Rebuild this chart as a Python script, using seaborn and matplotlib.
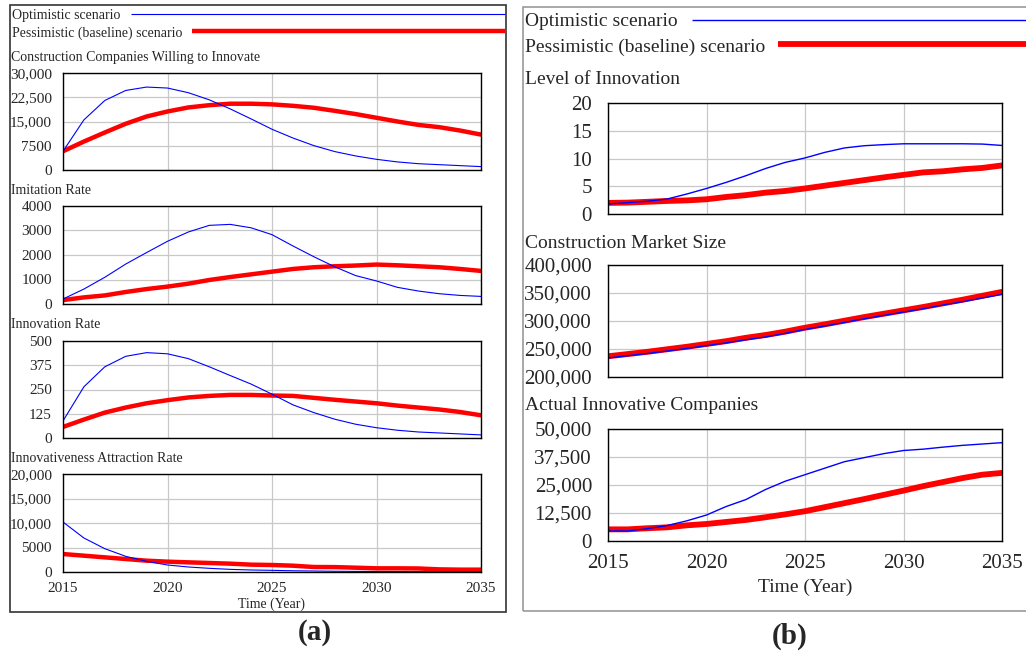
import numpy as np
import pandas as pd
import seaborn as sns
import matplotlib.pyplot as plt
from matplotlib.lines import Line2D
from matplotlib.patches import Rectangle

sns.set_style("white")
plt.rcParams['font.family'] = ['Liberation Serif', 'DejaVu Serif']

years = list(range(2015, 2036))

# (a) panel series
willing_opt = [5800, 15500, 21500, 24600, 25650, 25350, 23900, 21700, 18900, 15800, 12600,
               9900, 7550, 5700, 4350, 3300, 2500, 1950, 1650, 1350, 1050]
willing_pes = [5800, 8800, 11600, 14300, 16550, 18100, 19350, 20050, 20500, 20500, 20300,
               19850, 19250, 18300, 17300, 16150, 15000, 13950, 13250, 12200, 10950]
imit_opt = [204, 610, 1090, 1630, 2100, 2560, 2940, 3210, 3250, 3110, 2830,
            2370, 1930, 1520, 1160, 940, 680, 530, 420, 350, 310]
imit_pes = [160, 270, 350, 490, 610, 710, 830, 980, 1100, 1210, 1320,
            1430, 1500, 1540, 1570, 1610, 1580, 1540, 1500, 1430, 1350]
innov_opt = [88, 264, 367, 421, 440, 434, 409, 367, 322, 278, 226,
             171, 131, 97, 71, 53, 40, 31, 26, 21, 16]
innov_pes = [57, 95, 131, 157, 179, 195, 209, 217, 222, 222, 219,
             217, 207, 197, 188, 179, 167, 157, 147, 134, 117]
attr_opt = [10200, 6940, 4760, 3200, 2180, 1430, 1020, 750, 540, 410, 340,
            250, 200, 150, 120, 100, 80, 70, 60, 50, 40]
attr_pes = [3670, 3330, 2990, 2650, 2310, 2110, 1970, 1840, 1700, 1500, 1430,
            1290, 1020, 1000, 880, 750, 750, 720, 540, 480, 480]

# (b) panel series
level_opt = [1.8, 2.05, 2.3, 2.7, 3.6, 4.6, 5.7, 6.9, 8.2, 9.3, 10.1,
             11.1, 11.9, 12.3, 12.5, 12.65, 12.65, 12.65, 12.65, 12.6, 12.35]
level_pes = [2.0, 2.05, 2.2, 2.35, 2.45, 2.65, 3.07, 3.4, 3.85, 4.15, 4.6,
             5.1, 5.6, 6.1, 6.6, 7.05, 7.5, 7.7, 8.05, 8.3, 8.75]
market_opt = [234000, 238000, 242000, 246500, 251000, 256000, 261000, 266500, 271500, 278000, 285000,
              291000, 297500, 304000, 310000, 316000, 322000, 328500, 334500, 341000, 347500]
market_pes = [237000, 241000, 245000, 249500, 254000, 259000, 264000, 270000, 275000, 281000, 288000,
              294000, 300500, 307000, 313000, 319000, 325000, 331500, 338000, 345000, 352000]
actual_opt = [4500, 4500, 5500, 6900, 9000, 11600, 15400, 18500, 23000, 26700, 29600,
              32500, 35400, 37200, 39000, 40400, 41000, 41900, 42700, 43300, 43900]
actual_pes = [5200, 5200, 5700, 6100, 7000, 7600, 8500, 9400, 10600, 11900, 13300,
              15100, 16900, 18700, 20600, 22500, 24500, 26300, 28100, 29600, 30400]

titles_a = ["Construction Companies Willing to Innovate", "Imitation Rate",
            "Innovation Rate", "Innovativeness Attraction Rate"]
ticks_a = [["0", "7500", "15,000", "22,500", "30,000"],
           ["0", "1000", "2000", "3000", "4000"],
           ["0", "125", "250", "375", "500"],
           ["0", "5000", "10,000", "15,000", "20,000"]]
ymax_a = [30000, 4000, 500, 20000]
titles_b = ["Level of Innovation", "Construction Market Size", "Actual Innovative Companies"]
ticks_b = [["0", "5", "10", "15", "20"],
           ["200,000", "250,000", "300,000", "350,000", "400,000"],
           ["0", "12,500", "25,000", "37,500", "50,000"]]
ylim_b = [(0, 20), (200000, 400000), (0, 50000)]
xticks = [2015, 2020, 2025, 2030, 2035]

BLUE = "#0000ff"
RED = "#ff0000"
W, H = 1026, 652

fig = plt.figure(figsize=(W / 100, H / 100), dpi=100)


def rect(x0, x1, y0, y1):
    return [x0 / W, 1 - y1 / H, (x1 - x0) / W, (y1 - y0) / H]


def txt(x, y, s, size, **kw):
    fig.text(x / W, 1 - y / H, s, fontsize=size, va='center', **kw)


def hline(x0, x1, y, color, lw):
    fig.add_artist(Line2D([x0 / W, x1 / W], [1 - y / H, 1 - y / H], color=color, lw=lw,
                          solid_capstyle='butt'))


def draw(ax, opt, pes, lims, labels, tsize, lw_red, lw_blue, show_x):
    df = pd.DataFrame({'year': years, 'opt': opt, 'pes': pes})
    sns.lineplot(data=df, x='year', y='pes', ax=ax, color=RED, lw=lw_red)
    sns.lineplot(data=df, x='year', y='opt', ax=ax, color=BLUE, lw=lw_blue)
    ax.set_xlim(2015, 2035)
    ax.set_ylim(*lims)
    ax.set_xticks(xticks)
    ax.set_yticks(np.linspace(lims[0], lims[1], 5))
    ax.set_yticklabels(labels, fontsize=tsize)
    if show_x:
        ax.set_xticklabels([str(t) for t in xticks], fontsize=tsize)
    else:
        ax.set_xticklabels([])
    ax.set_xlabel('')
    ax.set_ylabel('')
    ax.grid(True, color='#c8c8c8', lw=0.9)
    ax.tick_params(length=0)
    for sp in ax.spines.values():
        sp.set_color('black')
        sp.set_linewidth(1.0)


# panel borders
fig.add_artist(Rectangle((10 / W, 1 - 612 / H), 496 / W, 607 / H, transform=fig.transFigure,
                         fill=False, ec='#333333', lw=1.2))
fig.add_artist(Rectangle((523 / W, 1 - 611 / H), 520 / W, 604 / H, transform=fig.transFigure,
                         fill=False, ec='#999999', lw=1.2))

# (a) legend
txt(12, 16, "Optimistic scenario", 10)
hline(131, 505, 13.5, BLUE, 0.8)
txt(12, 33, "Pessimistic (baseline) scenario", 10)
hline(192, 505, 31, RED, 3.2)

rows_a = [(73, 170), (206, 304), (341, 438), (474, 572)]
title_y_a = [57, 191, 325, 458]
series_a = [(willing_opt, willing_pes), (imit_opt, imit_pes),
            (innov_opt, innov_pes), (attr_opt, attr_pes)]
for i in range(4):
    ax = fig.add_axes(rect(63, 481, *rows_a[i]))
    draw(ax, series_a[i][0], series_a[i][1], (0, ymax_a[i]), ticks_a[i], 11, 3.2, 0.8, i == 3)
    ax.tick_params(axis='y', pad=8)
    ax.tick_params(axis='x', pad=7)
    txt(11, title_y_a[i], titles_a[i], 10)
txt(272, 604, "Time (Year)", 10, ha='center')
txt(315, 632, "(a)", 21, ha='center', fontweight='bold')

# (b) legend
txt(525, 22, "Optimistic scenario", 14)
hline(692, 1026, 19.5, BLUE, 1.0)
txt(525, 47, "Pessimistic (baseline) scenario", 14)
hline(778, 1026, 44, RED, 4.2)

rows_b = [(103, 214), (265, 377), (429, 541)]
title_y_b = [80, 243, 405]
series_b = [(level_opt, level_pes), (market_opt, market_pes), (actual_opt, actual_pes)]
for i in range(3):
    ax = fig.add_axes(rect(608, 1002, *rows_b[i]))
    draw(ax, series_b[i][0], series_b[i][1], ylim_b[i], ticks_b[i], 15, 4.2, 1.0, i == 2)
    ax.tick_params(axis='y', pad=11.5)
    ax.tick_params(axis='x', pad=9)
    txt(525, title_y_b[i], titles_b[i], 14)
txt(805, 587, "Time (Year)", 14, ha='center')
txt(790, 636, "(b)", 21, ha='center', fontweight='bold')

plt.savefig('out.png', dpi=100)
